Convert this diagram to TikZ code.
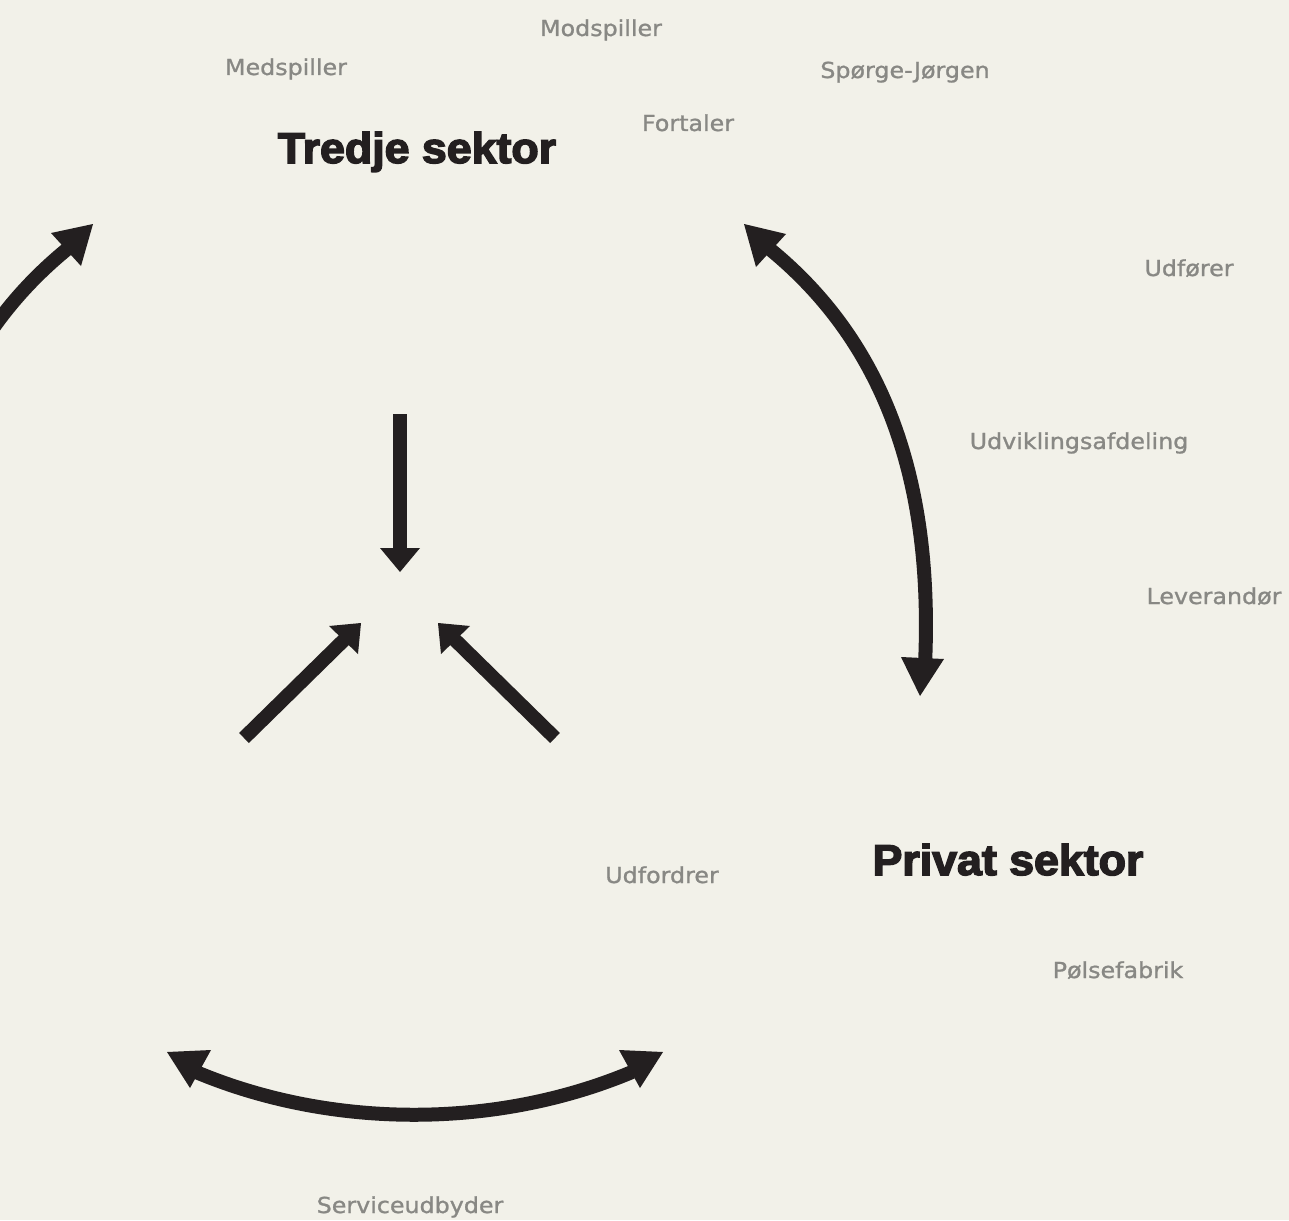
\documentclass[tikz,border=0pt]{standalone}
\usepackage{fontspec}
\newfontfamily\labelfont[FakeStretch=1.08,FakeBold=1.1]{DejaVu Sans}
\newfontfamily\headfont[FakeBold=3.5,FakeStretch=1.04]{Liberation Sans Bold}
\definecolor{paper}{RGB}{242,241,233}
\definecolor{ink}{RGB}{35,31,32}
\definecolor{muted}{RGB}{136,136,132}

\begin{document}
\begin{tikzpicture}[x=1pt,y=-1pt,
  role/.style={font=\labelfont\fontsize{22}{26}\selectfont, text=muted, anchor=base, inner sep=0pt},
  sector/.style={font=\headfont\fontsize{43}{50}\selectfont, text=ink, anchor=base, inner sep=0pt},
  shaft/.style={draw=ink, line width=14pt, line cap=butt},
  headfill/.style={fill=ink, draw=none}]

% canvas
\useasboundingbox (0,0) rectangle (1289,1220);
\fill[paper] (0,0) rectangle (1289,1220);
\clip (0,0) rectangle (1289,1220);

% sector headings
\node[sector] (tredje) at (417,163) {Tredje sektor};
\node[sector] (privat) at (1008,875) {Privat sektor};

% role labels
\node[role] (modspiller) at (601,36) {Modspiller};
\node[role] (medspiller) at (286,75) {Medspiller};
\node[role] (spoerge) at (905,78) {Spørge-Jørgen};
\node[role] (fortaler) at (688,131) {Fortaler};
\node[role] (udfoerer) at (1189,276) {Udfører};
\node[role] (udvikling) at (1079,449) {Udviklingsafdeling};
\node[role] (leverandoer) at (1214,604) {Leverandør};
\node[role] (udfordrer) at (662,883) {Udfordrer};
\node[role] (poelse) at (1118,978) {Pølsefabrik};
\node[role] (service) at (410,1213) {Serviceudbyder};

% arrow end points
\coordinate (rTop) at (766,246);
\coordinate (rBot) at (925,665);
\coordinate (lTop) at (71,246);
\coordinate (lBot) at (-88,665);
\coordinate (bLeft) at (196,1072);
\coordinate (bRight) at (632,1072);
\coordinate (vTail) at (400,414);
\coordinate (vEnd) at (400,550);
\coordinate (dlTail) at (244,738);
\coordinate (dlEnd) at (347,637);
\coordinate (drTail) at (555,738);
\coordinate (drEnd) at (452,637);

% curved double arrows
\draw[shaft] (rTop) .. controls (890,345) and (933,490) .. (rBot);
\fill[headfill] (744,224) -- (786,234) -- (756,267) -- cycle;
\fill[headfill] (901,657) -- (944,659) -- (920,696) -- cycle;

\draw[shaft] (lTop) .. controls (-53,345) and (-96,490) .. (lBot);
\fill[headfill] (93,224) -- (51,233) -- (81,266) -- cycle;

\draw[shaft] (bLeft) .. controls (332,1129) and (496,1129) .. (bRight);
\fill[headfill] (167,1052) -- (211,1050) -- (190,1088) -- cycle;
\fill[headfill] (619,1050) -- (663,1052) -- (640,1088) -- cycle;

% converging straight arrows
\draw[shaft] (vTail) -- (vEnd);
\fill[headfill] (380,548) -- (420,548) -- (400,572) -- cycle;

\draw[shaft] (dlTail) -- (dlEnd);
\fill[headfill] (361,623) -- (329,626) -- (358,654) -- cycle;

\draw[shaft] (drTail) -- (drEnd);
\fill[headfill] (438,623) -- (470,626) -- (441,654) -- cycle;
\end{tikzpicture}
\end{document}
